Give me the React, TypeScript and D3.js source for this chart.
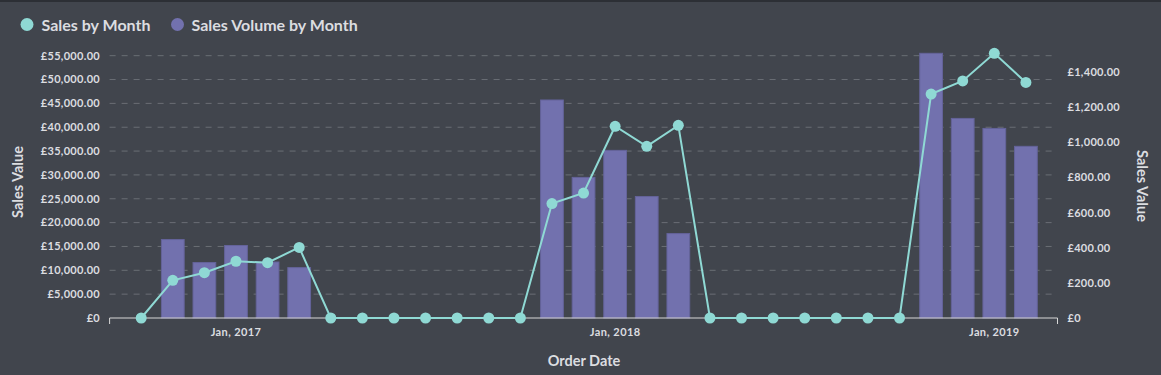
import React from "react";
import * as d3 from "d3";

const months = [
  "2016-10", "2016-11", "2016-12", "2017-01", "2017-02", "2017-03", "2017-04", "2017-05", "2017-06", "2017-07",
  "2017-08", "2017-09", "2017-10", "2017-11", "2017-12", "2018-01", "2018-02", "2018-03", "2018-04", "2018-05",
  "2018-06", "2018-07", "2018-08", "2018-09", "2018-10", "2018-11", "2018-12", "2019-01", "2019-02",
];
const salesByMonth = [
  0, 7900, 9500, 11900, 11600, 14800, 0, 0, 0, 0,
  0, 0, 0, 24000, 26200, 40200, 36000, 40400, 0, 0,
  0, 0, 0, 0, 0, 46950, 49700, 55500, 49400,
];
const volumeByMonth = [
  0, 447, 316, 413, 319, 287, 0, 0, 0, 0,
  0, 0, 0, 1242, 801, 955, 692, 481, 0, 0,
  0, 0, 0, 0, 0, 1508, 1137, 1080, 978,
];
const leftTicks = [0, 5000, 10000, 15000, 20000, 25000, 30000, 35000, 40000, 45000, 50000, 55000];
const rightTicks = [0, 200, 400, 600, 800, 1000, 1200, 1400];
const xTickMonths = ["2017-01", "2018-01", "2019-01"];
const xTickLabels = ["Jan, 2017", "Jan, 2018", "Jan, 2019"];
const legendItems = ["Sales by Month", "Sales Volume by Month"];

const W = 1161;
const H = 375;
const BG = "#41454d";
const LINE = "#8fd9d4";
const BAR = "#7271ae";
const TEXT = "#dcdde0";
const FONT = "Lato, 'Open Sans', sans-serif";

export default function App() {
  const x0 = 109.6, x1 = 1057.5, yTop = 53.3, yBot = 318;
  const x = d3.scalePoint<string>().domain(months).range([x0, x1]).padding(1);
  const yL = d3.scaleLinear().domain([0, 55500]).range([yBot, yTop]);
  const yR = d3.scaleLinear().domain([0, 1508]).range([yBot, yTop]);
  const barW = x.step() * 0.72;
  const fmtL = (v: number) => (v === 0 ? "£0" : "£" + d3.format(",.2f")(v));
  const line = d3.line<number>().x((_, i) => x(months[i])!).y((d) => yL(d));

  return (
    <svg width={W} height={H} style={{ position: "absolute", left: 0, top: 0, fontFamily: FONT }}>
      <rect x={0} y={0} width={W} height={H} fill={BG} />
      <rect x={0} y={0} width={W} height={2} fill="#2c2f35" />
      {/* legend */}
      <g fontSize={16} fontWeight={700} fill={TEXT}>
        <circle cx={27} cy={24.5} r={6.5} fill={LINE} />
        <text x={41.5} y={30.5}>{legendItems[0]}</text>
        <circle cx={177.5} cy={24.5} r={6.5} fill={BAR} />
        <text x={191.5} y={30.5}>{legendItems[1]}</text>
      </g>
      {/* grid */}
      {leftTicks.filter((t) => t > 0).map((t) => (
        <line key={t} x1={x0} x2={x1} y1={yL(t)} y2={yL(t)} stroke="#6a6e75" strokeDasharray="6,6" strokeWidth={1} />
      ))}
      {/* left ticks */}
      <g fontSize={11} fontWeight={700} fill={TEXT} textAnchor="end" letterSpacing={0.3}>
        {leftTicks.map((t) => (
          <text key={t} x={100} y={yL(t)} dy="0.35em">{fmtL(t)}</text>
        ))}
      </g>
      <g fontSize={11} fontWeight={700} fill={TEXT} textAnchor="start" letterSpacing={0.3}>
        {rightTicks.map((t) => (
          <text key={t} x={1067.5} y={yR(t)} dy="0.35em">{fmtL(t)}</text>
        ))}
      </g>
      {/* bars */}
      {volumeByMonth.map((v, i) =>
        v > 0 ? (
          <rect key={i} x={x(months[i])! - barW / 2} y={yR(v)} width={barW} height={yBot - yR(v)} fill={BAR} stroke="#64639a" strokeWidth={1} />
        ) : null
      )}
      {/* x axis */}
      <path d={`M${x0},${yBot + 6}V${yBot}H${x1}V${yBot + 6}`} fill="none" stroke="#d8d8d8" strokeWidth={1} />
      <g fontSize={11} fontWeight={700} fill={TEXT} textAnchor="middle" letterSpacing={0.4}>
        {xTickMonths.map((m, i) => (
          <text key={m} x={x(m)!} y={336}>{xTickLabels[i]}</text>
        ))}
      </g>
      {/* line */}
      <path d={line(salesByMonth)!} fill="none" stroke={LINE} strokeWidth={2} />
      {salesByMonth.map((v, i) => (
        <circle key={i} cx={x(months[i])!} cy={yL(v)} r={5.5} fill={LINE} />
      ))}
      {/* axis titles */}
      <g fontSize={14.5} fontWeight={700} fill={TEXT} textAnchor="middle">
        <text transform={`translate(22.5,182) rotate(-90)`}>Sales Value</text>
        <text transform={`translate(1137,186) rotate(90)`}>Sales Value</text>
        <text x={584} y={366}>Order Date</text>
      </g>
    </svg>
  );
}
